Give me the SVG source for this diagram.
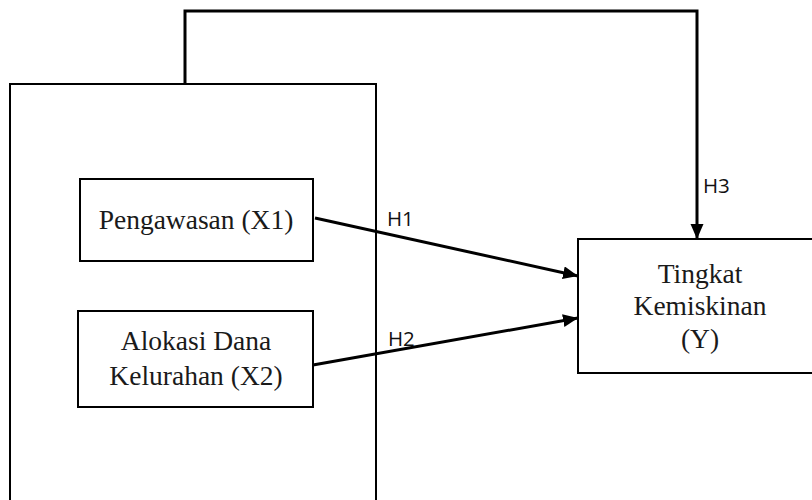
<svg xmlns="http://www.w3.org/2000/svg" width="812" height="500" viewBox="0 0 812 500">
<defs>
<marker id="arr" markerUnits="userSpaceOnUse" markerWidth="16" markerHeight="14" refX="15" refY="6.5" orient="auto">
<path d="M0,0 L15,6.5 L0,13 z" fill="#000"/>
</marker>
<style>
.box{fill:#fff;stroke:#000;stroke-width:2}
.open{fill:none;stroke:#000;stroke-width:2}
.conn{fill:none;stroke:#000;stroke-width:3}
.t{font-family:"Liberation Serif","Times New Roman",serif;font-size:27.5px;fill:#1a1a1a;text-anchor:middle}
.lbl{font-family:"Open Sans","DejaVu Sans",sans-serif;font-size:20.5px;fill:#111}
</style>
</defs>
<rect width="812" height="500" fill="#fff"/>
<g id="outer">
<path class="open" d="M10,500 V84 H376 V500"/>
</g>
<g id="x1">
<rect class="box" x="80" y="179" width="233" height="82"/>
<text class="t" x="196" y="229">Pengawasan (X1)</text>
</g>
<g id="x2">
<rect class="box" x="78" y="311" width="235" height="96"/>
<text class="t" x="196" y="350">Alokasi Dana</text>
<text class="t" x="196" y="385">Kelurahan (X2)</text>
</g>
<g id="y">
<path class="open" d="M813,239 H578 V373 H813"/>
<text class="t" x="700" y="283">Tingkat</text>
<text class="t" x="700" y="315">Kemiskinan</text>
<text class="t" x="700" y="348">(Y)</text>
</g>
<g id="connectors">
<path class="conn" d="M315,218 L578,276" marker-end="url(#arr)"/>
<path class="conn" d="M313,365 L578,318" marker-end="url(#arr)"/>
<path class="conn" d="M185,84 V11 H697 V239" marker-end="url(#arr)"/>
<text class="lbl" x="387" y="226">H1</text>
<text class="lbl" x="388" y="346">H2</text>
<text class="lbl" x="703" y="193">H3</text>
</g>
</svg>
